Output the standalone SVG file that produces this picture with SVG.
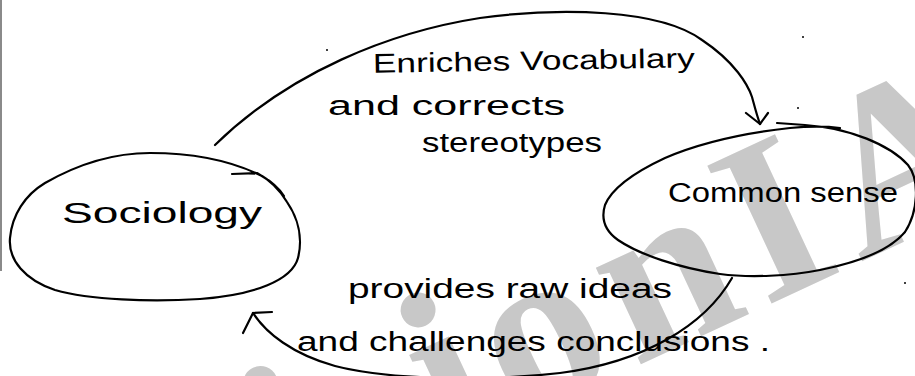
<svg xmlns="http://www.w3.org/2000/svg" width="915" height="376" viewBox="0 0 915 376">
  <style>
    .ink { fill: none; stroke: #000; stroke-width: 2.2; stroke-linecap: round; stroke-linejoin: round; }
    .hand { font-family: "Liberation Sans", "DejaVu Sans", sans-serif; fill: #000; }
    .speck { fill: #000; }
    .wm { font-family: "Liberation Serif", serif; font-weight: bold; font-size: 232px; fill: #c8c8c8; text-anchor: middle; }
  </style>
  <rect width="915" height="376" fill="#fff"/>

  <!-- background watermark: the letters that fall on the page, set along a rising baseline -->
  <g id="watermark" transform="translate(170,584) rotate(-25)">
    <text class="wm" x="166" y="0">i</text>
    <text class="wm" x="340" y="0">i</text>
    <text class="wm" x="441" y="0">o</text>
    <text class="wm" x="578" y="0">n</text>
    <text class="wm" x="701" y="0">I</text>
    <text class="wm" x="845" y="0">A</text>
  </g>

  <!-- page margin line -->
  <line x1="1" y1="0" x2="1" y2="271" stroke="#8a8a8a" stroke-width="2"/>

  <g id="sociology">
    <path class="ink" d="M 232,174 L 257,173 C 270,180 280,190 287,202 C 298,218 303,238 298,258 C 292,280 255,295 200,299 C 150,302 90,300 55,290 C 25,280 8,260 10,238 C 12,215 25,195 45,183 C 80,163 115,153 150,153 C 190,153 230,160 262,176 C 272,182 280,190 284,196"/>
    <text class="hand" x="62" y="223" font-size="30" textLength="200" lengthAdjust="spacingAndGlyphs">Sociology</text>
  </g>

  <g id="common-sense">
    <path class="ink" d="M 777,123 L 805,125 C 850,128 890,145 908,165 C 920,180 918,212 905,232 C 890,250 860,262 820,270 C 790,276 750,278 720,274 C 680,268 640,255 618,240 C 604,230 601,218 605,205 C 612,188 635,172 665,158 C 700,143 745,133 790,128 C 810,126 825,126 840,128"/>
    <text class="hand" x="668" y="202" font-size="27" textLength="230" lengthAdjust="spacingAndGlyphs">Common sense</text>
  </g>

  <g id="connectors">
    <!-- Sociology to Common sense -->
    <path class="ink" d="M 215,145 C 290,72 390,32 480,18 C 560,7 660,9 702,40 C 735,62 748,85 752,97 C 755,108 757,116 760,124"/>
    <path class="ink" d="M 746,113 L 760,124 L 768,113"/>
    <!-- Common sense to Sociology -->
    <path class="ink" d="M 732,278 C 705,325 645,362 560,373 C 480,382 385,379 335,366 C 292,354 266,333 253,313"/>
    <path class="ink" d="M 243,333 L 253,313 L 272,312"/>
  </g>

  <g id="labels">
    <text class="hand" x="373" y="70" font-size="27" textLength="322" lengthAdjust="spacingAndGlyphs" transform="rotate(-1 534 68)">Enriches Vocabulary</text>
    <text class="hand" x="328" y="115" font-size="27" textLength="237" lengthAdjust="spacingAndGlyphs">and corrects</text>
    <text class="hand" x="422" y="152" font-size="27" textLength="180" lengthAdjust="spacingAndGlyphs">stereotypes</text>
    <text class="hand" x="348" y="298" font-size="27" textLength="324" lengthAdjust="spacingAndGlyphs">provides raw ideas</text>
    <text class="hand" x="297" y="351" font-size="27" textLength="473" lengthAdjust="spacingAndGlyphs">and challenges conclusions .</text>
  </g>

  <!-- stray pen marks -->
  <circle class="speck" cx="327" cy="50" r="1"/>
  <circle class="speck" cx="803" cy="37" r="1"/>
  <circle class="speck" cx="798" cy="108" r="1"/>
  <circle class="speck" cx="905" cy="283" r="1"/>
</svg>
